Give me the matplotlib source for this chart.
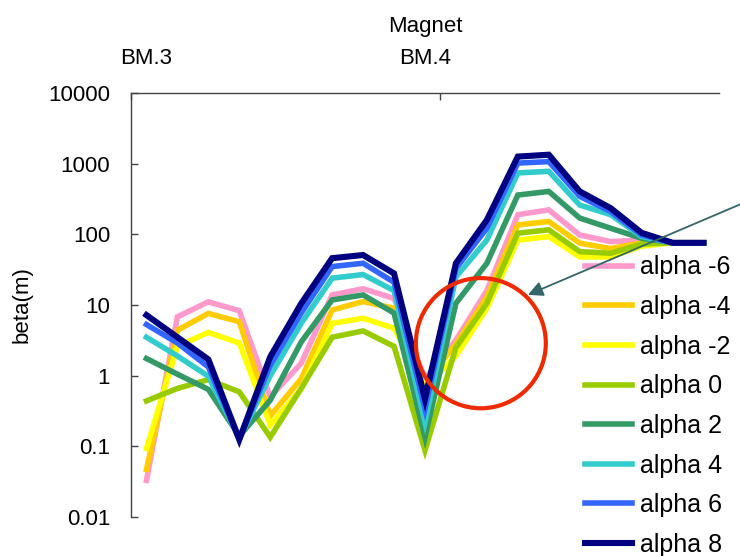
import numpy as np
import matplotlib.pyplot as plt
from matplotlib.patches import Ellipse
from matplotlib.ticker import FixedLocator, NullLocator

plt.rcParams["font.family"] = ["Liberation Sans", "DejaVu Sans"]

FONT = 16
LEGEND_FONT = 18

# magnets along the lattice (top axis)
magnet_names = ["BM.3", "BM.4"]
magnet_index = [0, 9]
magnet_edges = [-0.5, 9.5]

# beta function (m) at each element for every alpha setting
beta_a_m6 = [0.033, 6.8, 11.1, 8.3, 0.5, 1.5, 13.9, 17, 12.4, 0.9, 3.2, 16, 190, 222, 98, 79, 83, 76, 76]
beta_a_m4 = [0.047, 4.4, 7.6, 5.8, 0.27, 0.9, 8.5, 11.2, 9.0, 0.8, 2.8, 13, 136, 152, 75, 63, 76, 76, 76]
beta_a_m2 = [0.093, 2.6, 4.1, 2.9, 0.2, 0.65, 5.5, 6.5, 4.7, 0.7, 1.9, 9.0, 83, 93, 48, 48, 68, 76, 76]
beta_a_0 = [0.44, 0.66, 0.88, 0.59, 0.135, 0.66, 3.5, 4.3, 2.6, 0.088, 2.5, 10.6, 104, 116, 57, 54, 73, 76, 76]
beta_a_2 = [1.75, 1.05, 0.64, 0.14, 0.45, 3.0, 11.8, 13.9, 7.7, 0.135, 10.6, 39, 360, 405, 170, 122, 88, 76, 76]
beta_a_4 = [3.5, 1.9, 0.98, 0.13, 1.0, 5.5, 24, 27, 16, 0.22, 25, 83, 740, 780, 260, 190, 93, 76, 76]
beta_a_6 = [5.3, 2.9, 1.33, 0.125, 1.4, 7.7, 35, 39, 21, 0.34, 33, 122, 1020, 1070, 345, 210, 98, 76, 76]
beta_a_8 = [7.2, 3.5, 1.7, 0.125, 1.85, 10.5, 46, 51, 28, 0.47, 39, 160, 1260, 1340, 405, 235, 105, 76, 76]

series = [beta_a_m6, beta_a_m4, beta_a_m2, beta_a_0, beta_a_2, beta_a_4, beta_a_6, beta_a_8]
labels = ["alpha -6", "alpha -4", "alpha -2", "alpha 0", "alpha 2", "alpha 4", "alpha 6", "alpha 8"]
colors = ["#FF99CC", "#FFCC00", "#FFFF00", "#99CC00", "#339966", "#33CCCC", "#3366FF", "#000080"]

y_ticks = [0.01, 0.1, 1, 10, 100, 1000, 10000]
y_tick_labels = ["0.01", "0.1", "1", "10", "100", "1000", "10000"]

fig = plt.figure(figsize=(7.4, 5.56), dpi=100)
ax = fig.add_axes([0.177, 0.0701, 0.7946, 0.7626])

x = np.arange(len(beta_a_8))
for values, label, color in zip(series, labels, colors):
    lw = 4.4 if color == "#000080" else 4.0
    ax.plot(x, values, color=color, linewidth=lw, label=label, solid_joinstyle="miter")

ax.set_yscale("log")
ax.set_ylim(0.01, 10000)
ax.set_xlim(-0.5, 18.5)
ax.yaxis.set_major_locator(FixedLocator(y_ticks))
ax.yaxis.set_minor_locator(NullLocator())
ax.set_yticklabels(y_tick_labels)
ax.tick_params(axis="y", direction="in", length=5, width=1, color="#444444",
               labelsize=FONT, pad=15)
ax.set_ylabel("beta(m)", fontsize=FONT, labelpad=11)

# magnet names on top, boundaries as ticks
ax.xaxis.tick_top()
ax.xaxis.set_label_position("top")
ax.set_xticks(magnet_edges)
ax.set_xticklabels(["", ""])
ax.set_xticks(magnet_index, minor=True)
ax.set_xticklabels(magnet_names, minor=True)
ax.tick_params(axis="x", which="major", direction="in", length=5, width=1, color="#444444")
ax.tick_params(axis="x", which="minor", length=0, labelsize=FONT, pad=17)
ax.set_xlabel("Magnet", fontsize=FONT, labelpad=12)

for side in ["right", "bottom"]:
    ax.spines[side].set_visible(False)
for side in ["left", "top"]:
    ax.spines[side].set_color("#444444")
    ax.spines[side].set_linewidth(1)

# highlight the region after BM.4
ax.add_patch(Ellipse((0.595, 0.41), 0.221, 0.307, transform=ax.transAxes,
                     fill=False, edgecolor="#EE2A00", linewidth=3, zorder=5))
ax.annotate("", xy=(0.675, 0.524), xycoords="axes fraction",
            xytext=(1.01, 0.638), textcoords="figure fraction",
            arrowprops=dict(arrowstyle="-|>,head_length=0.9,head_width=0.45",
                            color="#336666", linewidth=1.3, shrinkA=0, shrinkB=0),
            annotation_clip=False, zorder=6)

ax.legend(loc="upper left", bbox_to_anchor=(0.7905, 0.5405), bbox_transform=fig.transFigure,
          frameon=False, fontsize=LEGEND_FONT, handlelength=1.9, handletextpad=0.3,
          labelspacing=0.625, borderpad=0, borderaxespad=0)

fig.savefig("out.png", dpi=100)
